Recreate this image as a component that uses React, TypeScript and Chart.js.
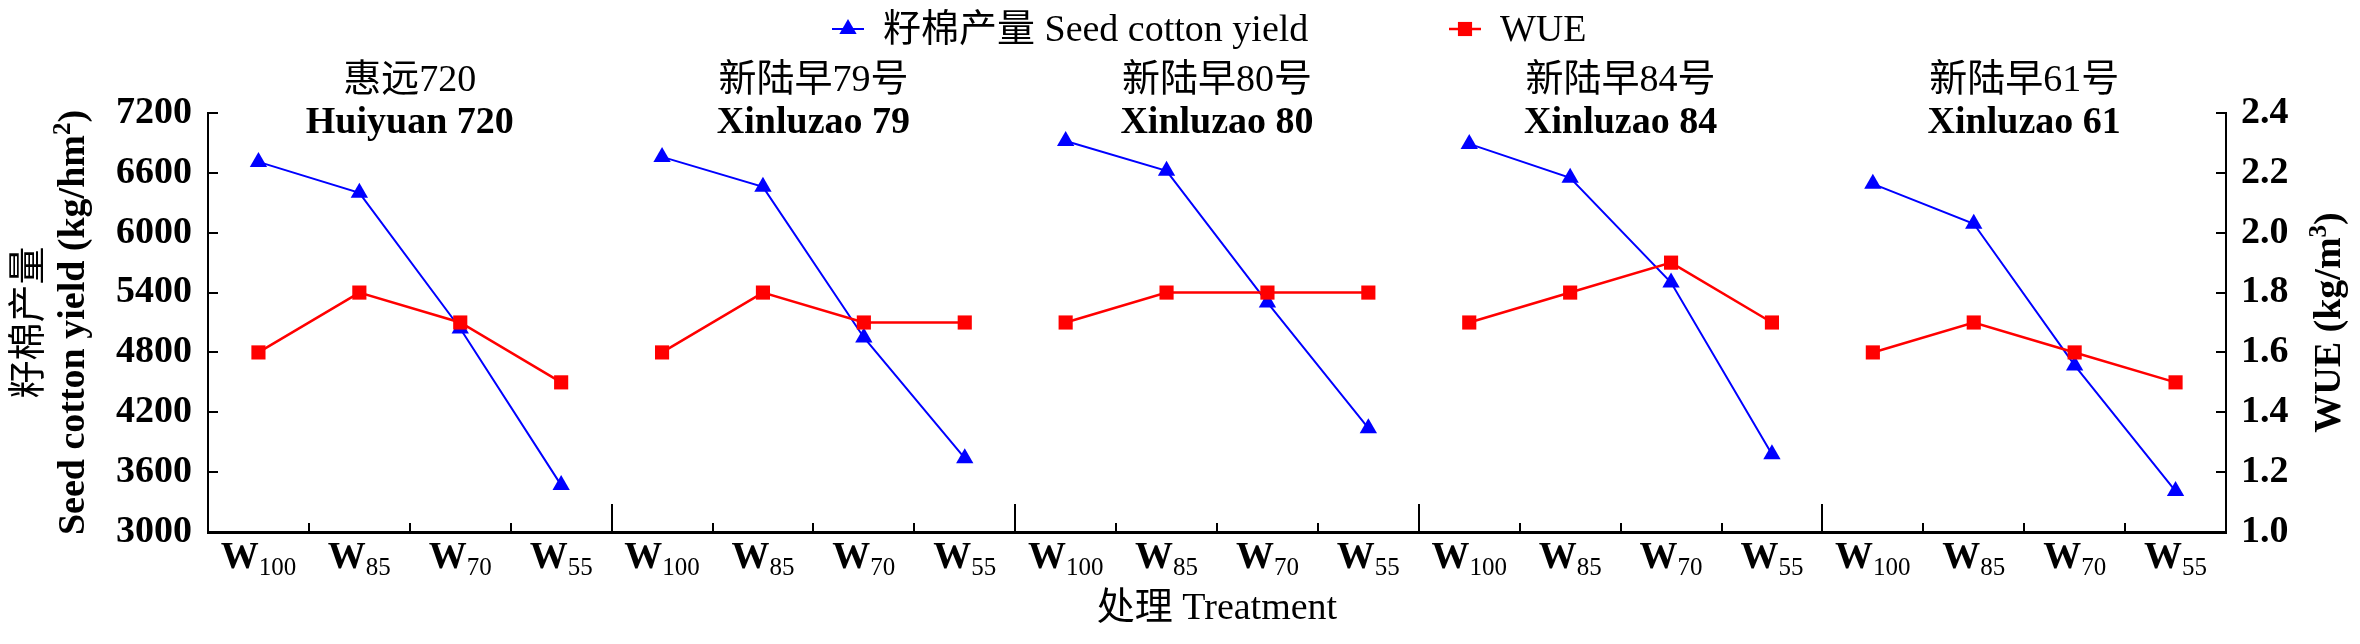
import React, { useEffect, useRef } from 'react';
import { Chart, registerables } from 'chart.js';
import type { Plugin } from 'chart.js';

Chart.register(...registerables);

// Cultivars (one panel each) and irrigation treatments
const panelNamesZh = ['惠远720', '新陆早79号', '新陆早80号', '新陆早84号', '新陆早61号'];
const panelNamesEn = ['Huiyuan 720', 'Xinluzao 79', 'Xinluzao 80', 'Xinluzao 84', 'Xinluzao 61'];
const treatments = ['100', '85', '70', '55'];

// Seed cotton yield (kg/hm2), 4 treatments per cultivar
const yieldValues = [
  6710, 6400, 5040, 3470,
  6760, 6460, 4950, 3740,
  6920, 6620, 5300, 4040,
  6890, 6550, 5500, 3780,
  6490, 6090, 4670, 3410,
];

// WUE (kg/m3)
const wueValues = [
  1.6, 1.8, 1.7, 1.5,
  1.6, 1.8, 1.7, 1.7,
  1.7, 1.8, 1.8, 1.8,
  1.7, 1.8, 1.9, 1.7,
  1.6, 1.7, 1.6, 1.5,
];

const yieldTicks = [3000, 3600, 4200, 4800, 5400, 6000, 6600, 7200];
const wueTicks = [1.0, 1.2, 1.4, 1.6, 1.8, 2.0, 2.2, 2.4];

const legendLabels = ['籽棉产量 Seed cotton yield', 'WUE'];

const FONT = '"Liberation Serif", "Noto Sans CJK SC", serif';
const BLUE = '#0000ff';
const RED = '#ff0000';

type Run = { t: string; s: number; dy: number; b?: boolean };

const fontOf = (r: Run) => `${r.b ? 'bold ' : ''}${r.s}px ${FONT}`;

// draws a row of text runs (for sub/superscripts) centred on cx
function drawRuns(ctx: CanvasRenderingContext2D, runs: Run[], cx: number, base: number) {
  let total = 0;
  const widths = runs.map(r => {
    ctx.font = fontOf(r);
    const w = ctx.measureText(r.t).width;
    total += w;
    return w;
  });
  let px = cx - total / 2;
  ctx.textAlign = 'left';
  ctx.textBaseline = 'alphabetic';
  runs.forEach((r, i) => {
    ctx.font = fontOf(r);
    ctx.fillText(r.t, px, base + r.dy);
    px += widths[i];
  });
}

const decorPlugin: Plugin<'line'> = {
  id: 'decor',
  afterDraw(chart) {
    const { ctx, chartArea: ca, scales } = chart;
    const x = scales.x;
    const yL = scales.y;
    const yR = scales.y1;
    const n = chart.data.labels!.length;
    const per = treatments.length;

    ctx.save();
    ctx.strokeStyle = '#000';
    ctx.fillStyle = '#000';
    ctx.lineWidth = 2;

    // inward tick marks
    ctx.beginPath();
    yieldTicks.forEach(v => {
      const py = Math.round(yL.getPixelForValue(v));
      ctx.moveTo(ca.left, py);
      ctx.lineTo(ca.left + 10, py);
    });
    wueTicks.forEach(v => {
      const py = Math.round(yR.getPixelForValue(v));
      ctx.moveTo(ca.right, py);
      ctx.lineTo(ca.right - 10, py);
    });
    for (let i = 0; i < n - 1; i++) {
      const bx = Math.round((x.getPixelForValue(i) + x.getPixelForValue(i + 1)) / 2);
      const h = (i + 1) % per === 0 ? 28 : 9;
      ctx.moveTo(bx, ca.bottom);
      ctx.lineTo(bx, ca.bottom - h);
    }
    ctx.stroke();

    // category labels W + subscript
    for (let i = 0; i < n; i++) {
      drawRuns(ctx, [{ t: 'W', s: 38, dy: 0, b: true }, { t: treatments[i % per], s: 25, dy: 7 }], x.getPixelForValue(i), ca.bottom + 36);
    }

    // x title
    drawRuns(ctx, [{ t: '处理 Treatment', s: 38, dy: 0 }], (ca.left + ca.right) / 2, ca.bottom + 87);

    // panel titles
    panelNamesEn.forEach((name, p) => {
      const cx = (x.getPixelForValue(p * per) + x.getPixelForValue(p * per + per - 1)) / 2;
      drawRuns(ctx, [{ t: panelNamesZh[p], s: 38, dy: 0 }], cx, ca.top - 22);
      drawRuns(ctx, [{ t: name, s: 38, dy: 0, b: true }], cx, ca.top + 20);
    });

    const cy = (ca.top + ca.bottom) / 2;

    // left axis title (two rotated lines)
    ctx.save();
    ctx.translate(40, cy);
    ctx.rotate(-Math.PI / 2);
    drawRuns(ctx, [{ t: '籽棉产量', s: 38, dy: 0 }], 0, 0);
    ctx.restore();

    ctx.save();
    ctx.translate(84, cy);
    ctx.rotate(-Math.PI / 2);
    drawRuns(ctx, [
      { t: 'Seed cotton yield (kg/hm', s: 38, dy: 0, b: true },
      { t: '2', s: 25, dy: -14, b: true },
      { t: ')', s: 38, dy: 0, b: true },
    ], 0, 0);
    ctx.restore();

    // right axis title
    ctx.save();
    ctx.translate(2340, cy);
    ctx.rotate(-Math.PI / 2);
    drawRuns(ctx, [
      { t: 'WUE (kg/m', s: 38, dy: 0, b: true },
      { t: '3', s: 25, dy: -14, b: true },
      { t: ')', s: 38, dy: 0, b: true },
    ], 0, 0);
    ctx.restore();

    // legend
    const legendX = [848, 1465];
    const legendY = 29;
    chart.data.datasets.forEach((ds: any, i) => {
      const mx = legendX[i];
      ctx.strokeStyle = ds.borderColor;
      ctx.fillStyle = ds.pointBackgroundColor;
      ctx.lineWidth = ds.borderWidth;
      ctx.beginPath();
      ctx.moveTo(mx - 16, legendY);
      ctx.lineTo(mx + 16, legendY);
      ctx.stroke();
      ctx.beginPath();
      if (ds.pointStyle === 'triangle') {
        const r = ds.pointRadius;
        ctx.moveTo(mx, legendY - r);
        ctx.lineTo(mx + r * 0.866, legendY + r / 2);
        ctx.lineTo(mx - r * 0.866, legendY + r / 2);
        ctx.closePath();
      } else {
        const h = ds.pointRadius * Math.SQRT1_2;
        ctx.rect(mx - h, legendY - h, 2 * h, 2 * h);
      }
      ctx.fill();
      ctx.fillStyle = '#000';
      ctx.font = `38px ${FONT}`;
      ctx.textAlign = 'left';
      ctx.textBaseline = 'alphabetic';
      ctx.fillText(legendLabels[i], mx + 35, legendY + 12);
    });

    ctx.restore();
  },
};

const App: React.FC = () => {
  const canvasRef = useRef<HTMLCanvasElement>(null);

  useEffect(() => {
    document.body.style.margin = '0';
    if (!canvasRef.current) return;

    const labels = panelNamesEn.flatMap(p => treatments.map(t => `${p} W${t}`));
    // no line between the last point of one cultivar and the first of the next
    const gap = (ctx: any) => (ctx.p0DataIndex % treatments.length === treatments.length - 1 ? 'rgba(0,0,0,0)' : undefined);

    const chart = new Chart(canvasRef.current, {
      type: 'line',
      data: {
        labels,
        datasets: [
          {
            label: legendLabels[0],
            data: yieldValues,
            yAxisID: 'y',
            borderColor: BLUE,
            backgroundColor: BLUE,
            pointBackgroundColor: BLUE,
            pointBorderColor: BLUE,
            borderWidth: 2,
            pointStyle: 'triangle',
            pointRadius: 10,
            pointBorderWidth: 0,
            tension: 0,
            order: 1,
            segment: { borderColor: gap },
          },
          {
            label: legendLabels[1],
            data: wueValues,
            yAxisID: 'y1',
            borderColor: RED,
            backgroundColor: RED,
            pointBackgroundColor: RED,
            pointBorderColor: RED,
            borderWidth: 2.5,
            pointStyle: 'rect',
            pointRadius: 10,
            pointBorderWidth: 0,
            tension: 0,
            order: 0,
            segment: { borderColor: gap },
          },
        ],
      },
      options: {
        responsive: false,
        animation: false,
        layout: { padding: { top: 113, left: 0, right: 0, bottom: 0 } },
        plugins: {
          legend: { display: false },
          tooltip: { enabled: false },
        },
        scales: {
          x: {
            type: 'category',
            offset: true,
            grid: { display: false },
            border: { display: true, color: '#000', width: 3 },
            ticks: { display: false },
            afterFit: (s: any) => { s.height = 112; },
          },
          y: {
            position: 'left',
            min: 3000,
            max: 7200,
            grid: { display: false, drawTicks: false },
            border: { display: true, color: '#000', width: 2 },
            afterBuildTicks: (s: any) => { s.ticks = yieldTicks.map(v => ({ value: v })); },
            ticks: {
              padding: 16,
              color: '#000',
              font: { family: FONT, size: 38, weight: 'bold' },
              callback: (v: any) => String(v),
            },
            afterFit: (s: any) => { s.width = 208; },
          },
          y1: {
            position: 'right',
            min: 1.0,
            max: 2.4,
            grid: { display: false, drawTicks: false },
            border: { display: true, color: '#000', width: 2 },
            afterBuildTicks: (s: any) => { s.ticks = wueTicks.map(v => ({ value: v })); },
            ticks: {
              padding: 15,
              color: '#000',
              font: { family: FONT, size: 38, weight: 'bold' },
              callback: (v: any) => Number(v).toFixed(1),
            },
            afterFit: (s: any) => { s.width = 134; },
          },
        },
      },
      plugins: [decorPlugin],
    });

    return () => {
      chart.destroy();
    };
  }, []);

  return (
    <div style={{ width: 2360, height: 644, background: '#fff' }}>
      <canvas ref={canvasRef} width={2360} height={644} style={{ display: 'block' }} />
    </div>
  );
};

export default App;
